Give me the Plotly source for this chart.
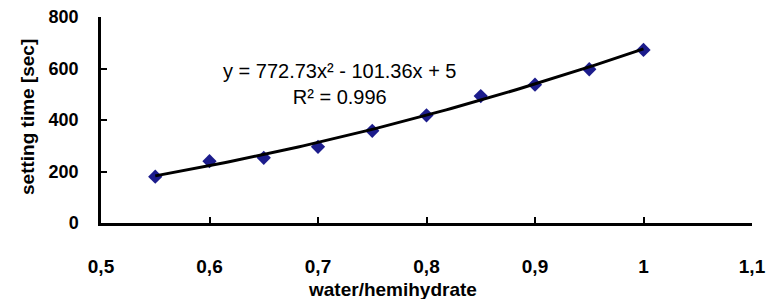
import numpy as np
import plotly.graph_objects as go

ratio = [0.55, 0.60, 0.65, 0.70, 0.75, 0.80, 0.85, 0.90, 0.95, 1.00]
setting_time = [180, 240, 253, 296, 358, 418, 493, 537, 597, 672]
fit_coeffs = [772.73, -101.36, 5]  # displayed trendline coefficients
x_ticks = [0.5, 0.6, 0.7, 0.8, 0.9, 1.0, 1.1]
x_ticktext = ["0,5", "0,6", "0,7", "0,8", "0,9", "1", "1,1"]
y_ticks = [0, 200, 400, 600, 800]

font_family = "Liberation Sans, Arial, sans-serif"

xs = np.linspace(min(ratio), max(ratio), 100)
ys = np.polyval(fit_coeffs, xs)

fig = go.Figure()
fig.add_trace(go.Scatter(x=ratio, y=setting_time, mode="markers",
                         marker=dict(symbol="diamond", size=11, color="#1c1c8c"),
                         showlegend=False))
fig.add_trace(go.Scatter(x=xs, y=ys, mode="lines",
                         line=dict(color="black", width=3), showlegend=False))

L, R, T, B = 101, 14, 17, 76
W, H = 766, 299
pw = W - L - R
ph = H - T - B

fig.update_layout(
    width=W, height=H,
    margin=dict(l=L, r=R, t=T, b=B),
    paper_bgcolor="white", plot_bgcolor="white",
    font=dict(family=font_family, color="black"),
    xaxis=dict(range=[0.5, 1.1], tickvals=x_ticks, ticktext=x_ticktext,
               ticks="inside", ticklen=6, tickwidth=2, tickcolor="black",
               showline=True, linecolor="black", linewidth=2.5,
               showgrid=False, zeroline=False, automargin=False,
               tickfont=dict(size=19, family=font_family, weight="bold"),
               ticklabelstandoff=24),
    yaxis=dict(range=[0, 800], tickvals=y_ticks,
               ticks="inside", ticklen=6, tickwidth=2, tickcolor="black",
               showline=True, linecolor="black", linewidth=2.5,
               showgrid=False, zeroline=False, automargin=False,
               tickfont=dict(size=18, family=font_family, weight="bold"),
               ticklabelstandoff=16),
)

fig.add_annotation(text="y = 772.73x² - 101.36x + 5<br>R² = 0.996",
                   xref="paper", yref="paper",
                   x=(340 - L) / pw, y=1 - (84 - T) / ph, showarrow=False,
                   xanchor="center", yanchor="middle",
                   font=dict(size=20, family=font_family), align="center")
fig.add_annotation(text="<b>water/hemihydrate</b>", xref="paper", yref="paper",
                   x=(392 - L) / pw, y=-(289 - T - ph) / ph, showarrow=False,
                   xanchor="center", yanchor="middle",
                   font=dict(size=19, family=font_family))
fig.add_annotation(text="<b>setting time [sec]</b>", xref="paper", yref="paper",
                   x=(27 - L) / pw, y=1 - (117 - T) / ph, showarrow=False,
                   xanchor="center", yanchor="middle", textangle=-90,
                   font=dict(size=19, family=font_family))

fig.write_html("out.html", config={"displayModeBar": False},
               post_script="document.body.style.margin='0';document.body.style.overflow='hidden';")
